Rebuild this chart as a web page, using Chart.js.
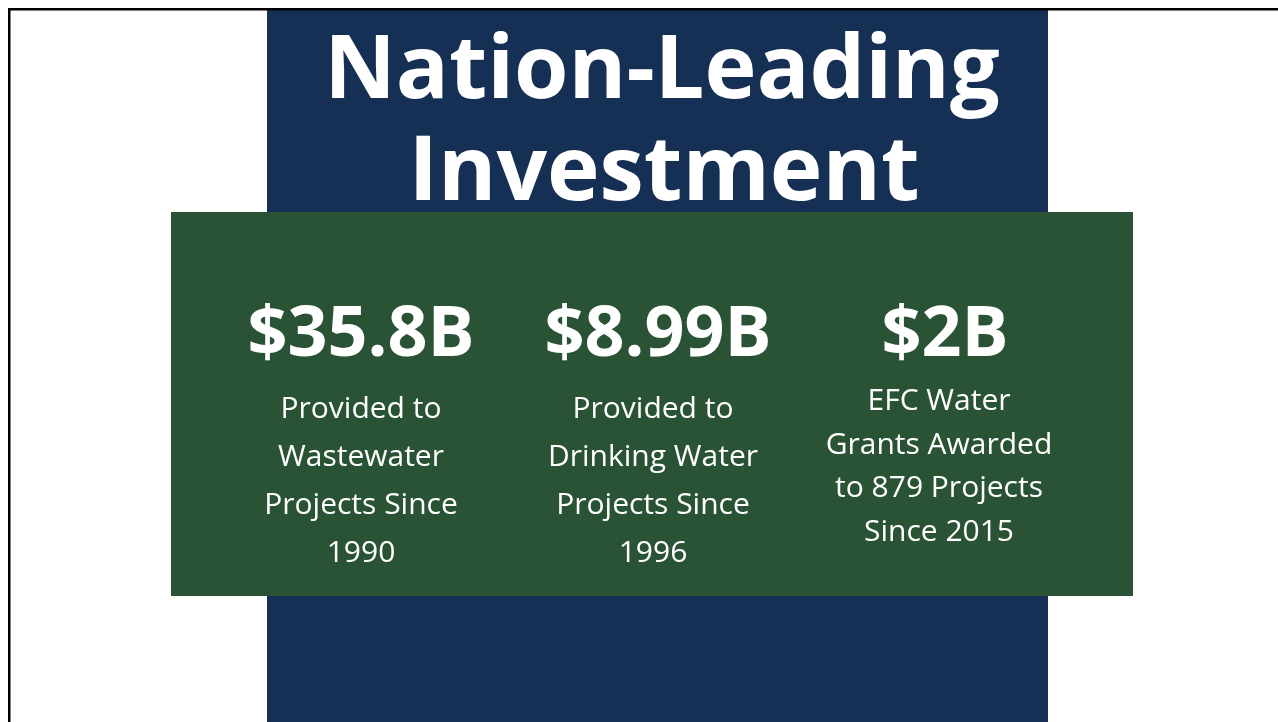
<!DOCTYPE html>
<html>
<head>
<meta charset="utf-8">
<script src="https://cdn.jsdelivr.net/npm/chart.js@4.4.1/dist/chart.umd.min.js"></script>
<style>
  html, body { margin: 0; padding: 0; background: #ffffff; overflow: hidden; }
  #wrap { position: relative; width: 1278px; height: 722px; }
  canvas { display: block; }
</style>
</head>
<body>
<div id="wrap"><canvas id="c" width="1278" height="722"></canvas></div>
<script>
// ---- Data ----
const titleLines = ["Nation-Leading", "Investment"];
const categories = ["Wastewater", "Drinking Water", "EFC Water Grants"];
const amounts = [35.8, 8.99, 2];
const amountLabels = ["$35.8B", "$8.99B", "$2B"];
const desc1 = ["Provided to", "Wastewater", "Projects Since", "1990"];
const desc2 = ["Provided to", "Drinking Water", "Projects Since", "1996"];
const desc3 = ["EFC Water", "Grants Awarded", "to 879 Projects", "Since 2015"];
const descriptions = [desc1, desc2, desc3];

// ---- Style ----
const NAVY = "#163055";
const GREEN = "#2a5336";
const WHITE = "#ffffff";

const slidePlugin = {
  id: "slide",
  beforeDraw(chart) {
    const ctx = chart.ctx;
    ctx.save();
    ctx.fillStyle = "#ffffff";
    ctx.fillRect(0, 0, 1278, 722);
    ctx.fillStyle = NAVY;
    ctx.fillRect(267, 10, 781, 712);
    ctx.fillStyle = GREEN;
    ctx.fillRect(171, 212, 962, 384);
    ctx.fillStyle = "#000000";
    ctx.fillRect(8, 8, 1270, 2.5);
    ctx.fillRect(8, 8, 2.5, 714);

    ctx.fillStyle = WHITE;
    ctx.textAlign = "center";
    ctx.textBaseline = "alphabetic";
    ctx.font = "bold 88px 'Open Sans'";
    ctx.fillText(titleLines[0], 662, 98);
    ctx.font = "bold 89px 'Open Sans'";
    ctx.fillText(titleLines[1], 664, 200);

    const centers = [361, 658, 945];
    ctx.font = "bold 70px 'Open Sans'";
    amountLabels.forEach((t, i) => ctx.fillText(t, centers[i], 356));

    ctx.font = "30px 'Open Sans'";
    const offs = [0, -5, -6];
    descriptions.forEach((lines, i) => {
      const start = i === 2 ? 410 : 418;
      const step = i === 2 ? 43.5 : 48;
      lines.forEach((ln, j) => ctx.fillText(ln, centers[i] + offs[i], start + j * step));
    });
    ctx.restore();
  }
};

new Chart(document.getElementById("c"), {
  type: "bar",
  data: { labels: categories, datasets: [{ data: amounts, backgroundColor: "rgba(0,0,0,0)", borderWidth: 0 }] },
  options: {
    responsive: false,
    animation: false,
    layout: { padding: 0 },
    plugins: { legend: { display: false }, tooltip: { enabled: false } },
    scales: { x: { display: false }, y: { display: false } }
  },
  plugins: [slidePlugin]
});
</script>
</body>
</html>
